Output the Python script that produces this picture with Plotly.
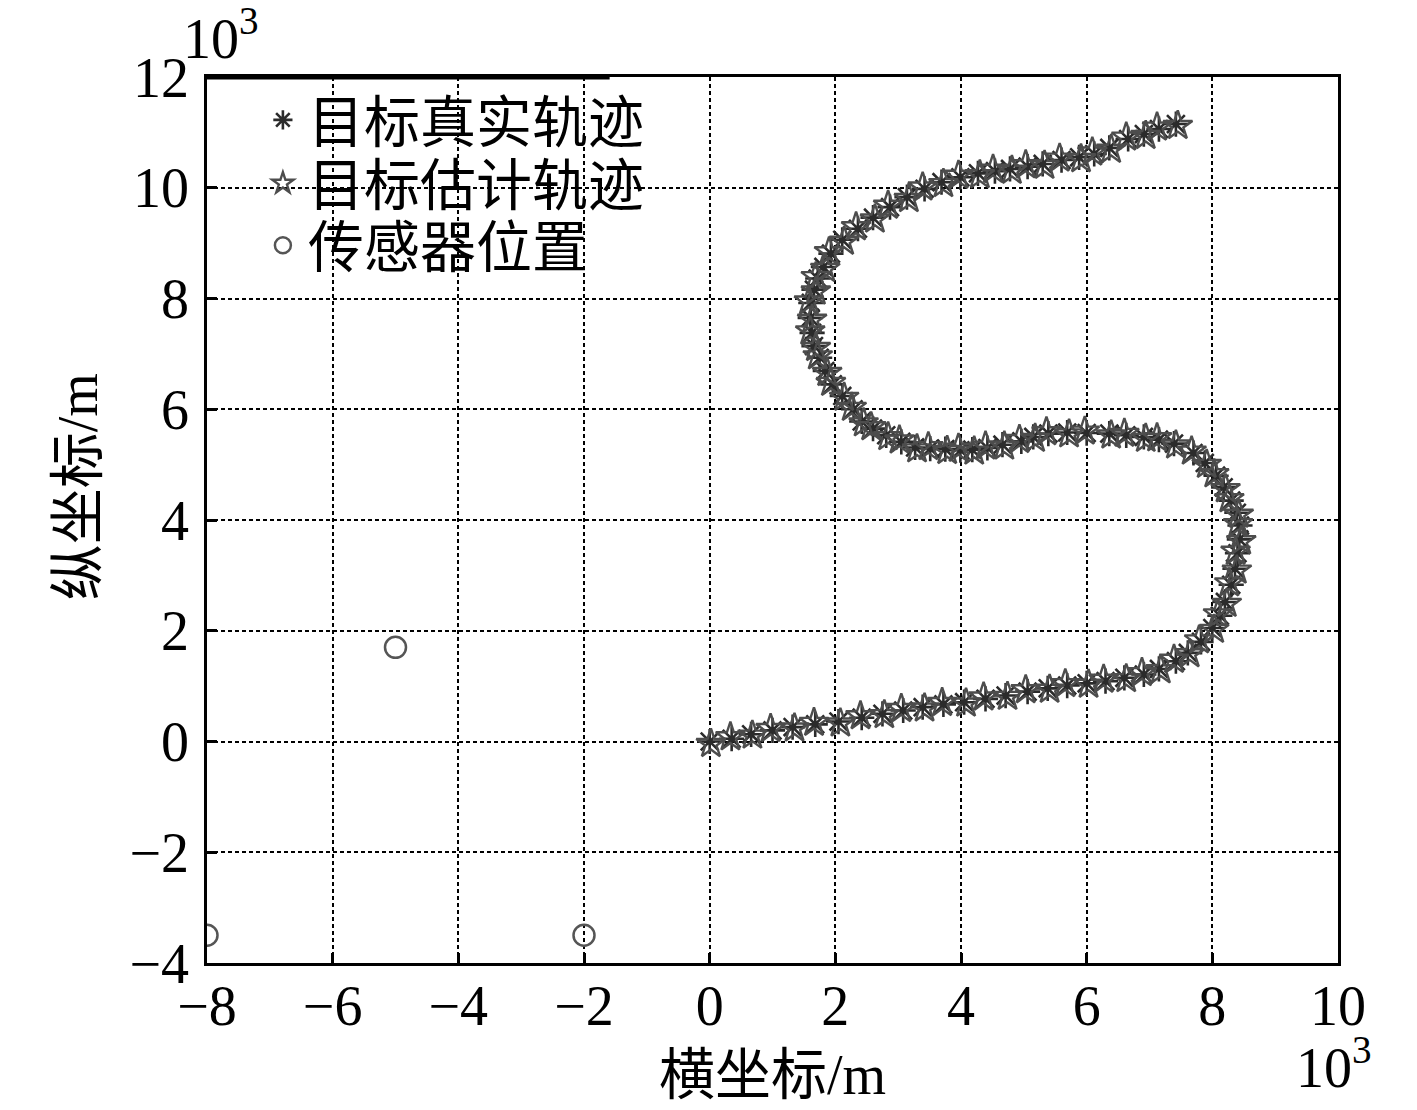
import plotly.graph_objects as go

# target true trajectory (x, y in 10^3 m)
true_x = [0.00, 0.35, 0.66, 1.00, 1.32, 1.68, 2.05, 2.42, 2.75, 3.08, 3.39, 3.72, 4.05, 4.39, 4.71,
          5.06, 5.38, 5.69, 6.00, 6.30, 6.60, 6.91, 7.15, 7.42, 7.61, 7.82, 8.00, 8.12, 8.20, 8.30,
          8.36, 8.40, 8.43, 8.44, 8.39, 8.30, 8.18, 8.06, 7.88, 7.70, 7.39, 7.15, 6.91, 6.63, 6.36,
          6.00, 5.69, 5.39, 5.15, 4.96, 4.66, 4.42, 4.18, 3.99, 3.75, 3.51, 3.27, 3.05, 2.81, 2.60,
          2.42, 2.29, 2.11, 1.96, 1.84, 1.75, 1.66, 1.63, 1.60, 1.61, 1.66, 1.72, 1.81, 1.93, 2.11,
          2.36, 2.60, 2.87, 3.14, 3.42, 3.69, 3.99, 4.27, 4.54, 4.78, 5.06, 5.30, 5.60, 5.88, 6.12,
          6.36, 6.66, 6.91, 7.15, 7.42]
true_y = [0.00, 0.05, 0.13, 0.20, 0.26, 0.31, 0.36, 0.43, 0.50, 0.56, 0.62, 0.67, 0.71, 0.77, 0.83,
          0.90, 0.96, 1.01, 1.05, 1.09, 1.15, 1.21, 1.31, 1.45, 1.60, 1.80, 2.05, 2.27, 2.52, 2.83,
          3.12, 3.40, 3.65, 3.90, 4.13, 4.35, 4.59, 4.80, 5.03, 5.21, 5.38, 5.45, 5.50, 5.53, 5.56,
          5.57, 5.58, 5.56, 5.50, 5.42, 5.36, 5.30, 5.27, 5.26, 5.28, 5.29, 5.31, 5.41, 5.53, 5.65,
          5.78, 6.00, 6.24, 6.45, 6.69, 6.93, 7.14, 7.38, 7.65, 7.92, 8.16, 8.36, 8.57, 8.81, 9.06,
          9.26, 9.46, 9.65, 9.83, 9.98, 10.10, 10.19, 10.26, 10.30, 10.34, 10.38, 10.43, 10.50, 10.55, 10.61,
          10.72, 10.88, 10.97, 11.06, 11.15]

# target estimated trajectory
est_x = [0.02, 0.33, 0.68, 0.97, 1.35, 1.66, 2.08, 2.40, 2.78, 3.05, 3.42, 3.70, 4.08, 4.36, 4.74,
         5.03, 5.41, 5.66, 6.03, 6.27, 6.63, 6.88, 7.18, 7.39, 7.64, 7.79, 8.03, 8.09, 8.23, 8.27,
         8.39, 8.37, 8.46, 8.41, 8.42, 8.27, 8.21, 8.03, 7.91, 7.67, 7.42, 7.12, 6.94, 6.60, 6.39,
         5.97, 5.72, 5.36, 5.18, 4.93, 4.69, 4.39, 4.21, 3.96, 3.78, 3.48, 3.30, 3.02, 2.84, 2.57,
         2.45, 2.26, 2.14, 1.93, 1.87, 1.72, 1.69, 1.60, 1.63, 1.58, 1.69, 1.69, 1.84, 1.90, 2.14,
         2.33, 2.63, 2.84, 3.17, 3.39, 3.72, 3.96, 4.30, 4.51, 4.81, 5.03, 5.33, 5.57, 5.91, 6.09,
         6.39, 6.63, 6.94, 7.12, 7.45]
est_y = [-0.04, 0.08, 0.11, 0.23, 0.24, 0.34, 0.33, 0.46, 0.48, 0.59, 0.60, 0.70, 0.69, 0.80, 0.81,
         0.93, 0.94, 1.04, 1.03, 1.12, 1.13, 1.24, 1.29, 1.48, 1.58, 1.83, 2.02, 2.30, 2.49, 2.86,
         3.09, 3.43, 3.62, 3.93, 4.10, 4.38, 4.56, 4.83, 5.00, 5.24, 5.35, 5.48, 5.47, 5.56, 5.53,
         5.60, 5.55, 5.59, 5.47, 5.45, 5.33, 5.33, 5.24, 5.29, 5.25, 5.32, 5.28, 5.44, 5.50, 5.68,
         5.75, 6.03, 6.21, 6.48, 6.66, 6.96, 7.11, 7.41, 7.62, 7.95, 8.13, 8.39, 8.54, 8.84, 9.03,
         9.29, 9.43, 9.68, 9.80, 10.01, 10.07, 10.22, 10.23, 10.33, 10.31, 10.41, 10.40, 10.53, 10.52, 10.64,
         10.69, 10.91, 10.94, 11.09, 11.12]

# sensor positions
sensor_x = [-8.0, -5.0, -2.0]
sensor_y = [-3.5, 1.7, -3.5]

x_ticks = [-8, -6, -4, -2, 0, 2, 4, 6, 8, 10]
y_ticks = [-4, -2, 0, 2, 4, 6, 8, 10, 12]

FONT = "Liberation Serif, 'Times New Roman', 'Noto Sans CJK SC', serif"
FS = 56

fig = go.Figure()

fig.add_trace(go.Scatter(
    x=true_x, y=true_y, mode="markers", name="目标真实轨迹", legend="legend",
    marker=dict(symbol="asterisk-open", size=21, color="#2b2b2b",
                line=dict(color="#2b2b2b", width=2.6))
))
fig.add_trace(go.Scatter(
    x=est_x, y=est_y, mode="markers", name="目标估计轨迹", legend="legend2",
    marker=dict(symbol="star-open", size=22, color="#4d4d4d",
                line=dict(color="#4d4d4d", width=2.4))
))
fig.add_trace(go.Scatter(
    x=sensor_x, y=sensor_y, mode="markers", name="传感器位置", legend="legend3",
    marker=dict(symbol="circle-open", size=21, color="#555555",
                line=dict(color="#555555", width=2.5))
))

axis_common = dict(
    showline=True, linecolor="black", linewidth=2.5, mirror=True,
    ticks="inside", ticklen=10, tickwidth=2.5, tickcolor="black",
    showgrid=True, gridcolor="black", gridwidth=2, griddash="4px,3px",
    zeroline=False, tickfont=dict(family=FONT, size=FS, color="black"),
)

fig.update_xaxes(range=[-8, 10], tickvals=x_ticks, ticklabelstandoff=-8, **axis_common)
fig.update_yaxes(range=[-4, 12], tickvals=y_ticks, ticklabelstandoff=4, **axis_common)

legend_common = dict(
    x=0.045, xanchor="left", yanchor="middle",
    bgcolor="rgba(0,0,0,0)", borderwidth=0,
    font=dict(family=FONT, size=FS, color="black"),
    itemwidth=40,
)

fig.update_layout(
    width=1417, height=1110,
    margin=dict(l=199, r=87, t=69, b=155),
    plot_bgcolor="white", paper_bgcolor="white",
    font=dict(family=FONT, size=FS, color="black"),
    showlegend=True,
    legend=dict(y=0.9515, **legend_common),
    legend2=dict(y=0.880, **legend_common),
    legend3=dict(y=0.810, **legend_common),
    shapes=[
        # white legend box hiding the grid, thick upper edge
        dict(type="rect", xref="paper", yref="paper", x0=0, x1=0.356, y0=0.777, y1=1,
             fillcolor="white", line=dict(width=0), layer="between"),
        dict(type="line", xref="paper", yref="paper", x0=0, x1=0.356, y0=1, y1=1,
             line=dict(color="black", width=5), layer="above"),
    ],
    annotations=[
        dict(text="横坐标/m", xref="paper", yref="paper", x=0.5, y=0,
             xanchor="center", yanchor="middle", yshift=-112, showarrow=False,
             font=dict(family=FONT, size=FS, color="black")),
        dict(text="纵坐标/m", xref="paper", yref="paper", x=0, y=0.537, textangle=-90,
             xanchor="center", yanchor="middle", xshift=-129, showarrow=False,
             font=dict(family=FONT, size=FS, color="black")),
        dict(text="10<sup>3</sup>", xref="paper", yref="paper", x=0.012, y=1,
             xanchor="center", yanchor="middle", yshift=43, showarrow=False,
             font=dict(family=FONT, size=FS, color="black")),
        dict(text="10<sup>3</sup>", xref="paper", yref="paper", x=0.9965, y=0,
             xanchor="center", yanchor="middle", yshift=-100, showarrow=False,
             font=dict(family=FONT, size=FS, color="black")),
    ],
)

fig.write_html("out.html")
